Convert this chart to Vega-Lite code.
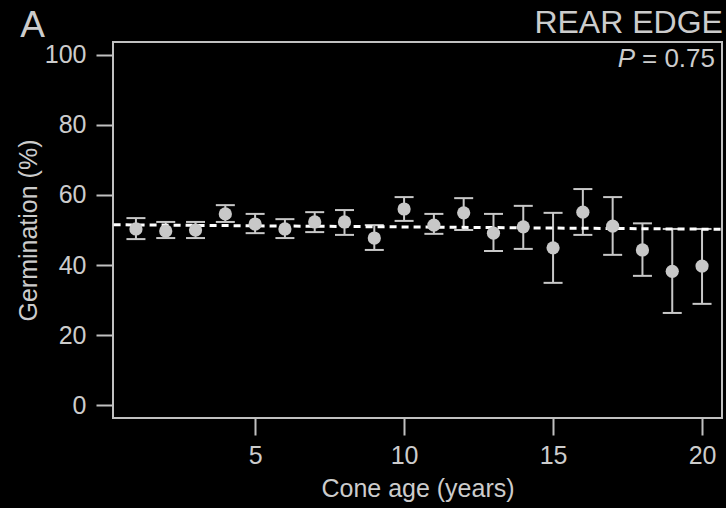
{
  "$schema": "https://vega.github.io/schema/vega-lite/v6.json",
  "width": 609,
  "height": 376,
  "autosize": {"type": "none"},
  "padding": {"left": 113, "top": 42, "right": 4, "bottom": 90},
  "background": "black",
  "view": {"stroke": "#c0c0c0", "strokeWidth": 2, "fill": "black"},
  "config": {
    "font": "Liberation Sans",
    "axis": {
      "labelColor": "#cccccc", "titleColor": "#cccccc", "tickColor": "#c0c0c0",
      "domain": false, "grid": false, "tickSize": 17, "tickWidth": 2,
      "labelFontSize": 25, "titleFontSize": 25, "titleFontWeight": "normal", "labelFont": "Liberation Sans", "titleFont": "Liberation Sans"
    }
  },
  "datasets": {
    "pts": [
      {"age": 1, "g": 50.3, "lo": 47.4, "hi": 53.4},
      {"age": 2, "g": 49.7, "lo": 47.7, "hi": 52.3},
      {"age": 3, "g": 50.0, "lo": 47.7, "hi": 52.3},
      {"age": 4, "g": 54.6, "lo": 52.3, "hi": 57.1},
      {"age": 5, "g": 51.7, "lo": 49.1, "hi": 54.6},
      {"age": 6, "g": 50.3, "lo": 47.7, "hi": 53.1},
      {"age": 7, "g": 52.3, "lo": 49.4, "hi": 55.1},
      {"age": 8, "g": 52.3, "lo": 48.6, "hi": 55.7},
      {"age": 9, "g": 47.7, "lo": 44.3, "hi": 51.4},
      {"age": 10, "g": 56.0, "lo": 52.6, "hi": 59.4},
      {"age": 11, "g": 51.4, "lo": 48.9, "hi": 54.6},
      {"age": 12, "g": 54.9, "lo": 50.0, "hi": 59.1},
      {"age": 13, "g": 49.1, "lo": 44.0, "hi": 54.6},
      {"age": 14, "g": 50.9, "lo": 44.6, "hi": 56.9},
      {"age": 15, "g": 44.9, "lo": 34.9, "hi": 54.9},
      {"age": 16, "g": 55.1, "lo": 48.6, "hi": 61.7},
      {"age": 17, "g": 51.1, "lo": 42.9, "hi": 59.4},
      {"age": 18, "g": 44.3, "lo": 36.9, "hi": 51.9},
      {"age": 19, "g": 38.2, "lo": 26.3, "hi": 50.3},
      {"age": 20, "g": 39.7, "lo": 28.9, "hi": 50.3}
    ],
    "fit": [
      {"age": 0.25, "g": 51.5},
      {"age": 20.65, "g": 50.2}
    ]
  },
  "layer": [
    {
      "data": {"name": "pts"},
      "mark": {"type": "rule", "color": "#c8c8c8", "strokeWidth": 2},
      "encoding": {
        "x": {"field": "age", "type": "quantitative", "scale": {"domain": [0.23, 20.67], "nice": false, "zero": false},
              "axis": {"values": [5, 10, 15, 20], "title": "Cone age (years)", "labelPadding": 8, "titlePadding": 8}},
        "y": {"field": "lo", "type": "quantitative", "scale": {"domain": [-3.71, 103.71], "nice": false},
              "axis": {"values": [0, 20, 40, 60, 80, 100], "title": "Germination (%)", "labelPadding": 10, "titlePadding": 3}},
        "y2": {"field": "hi"}
      }
    },
    {
      "data": {"name": "pts"},
      "mark": {"type": "tick", "orient": "horizontal", "color": "#c8c8c8", "size": 19, "thickness": 2, "opacity": 1},
      "encoding": {
        "x": {"field": "age", "type": "quantitative"},
        "y": {"field": "lo", "type": "quantitative"}
      }
    },
    {
      "data": {"name": "pts"},
      "mark": {"type": "tick", "orient": "horizontal", "color": "#c8c8c8", "size": 19, "thickness": 2, "opacity": 1},
      "encoding": {
        "x": {"field": "age", "type": "quantitative"},
        "y": {"field": "hi", "type": "quantitative"}
      }
    },
    {
      "data": {"name": "fit"},
      "mark": {"type": "line", "color": "white", "strokeWidth": 3, "strokeDash": [7, 5]},
      "encoding": {
        "x": {"field": "age", "type": "quantitative"},
        "y": {"field": "g", "type": "quantitative"}
      }
    },
    {
      "data": {"name": "pts"},
      "mark": {"type": "circle", "color": "#c8c8c8", "size": 175, "opacity": 1},
      "encoding": {
        "x": {"field": "age", "type": "quantitative"},
        "y": {"field": "g", "type": "quantitative"}
      }
    },
    {
      "data": {"values": [{"t": "= 0.75"}]},
      "mark": {"type": "text", "align": "right", "baseline": "alphabetic", "color": "#cccccc", "fontSize": 26, "dx": -7},
      "encoding": {
        "x": {"datum": 20.67, "type": "quantitative"},
        "y": {"datum": 96.57, "type": "quantitative"},
        "text": {"field": "t"}
      }
    },
    {
      "data": {"values": [{"t": "P"}]},
      "mark": {"type": "text", "align": "right", "baseline": "alphabetic", "color": "#cccccc", "fontSize": 26, "fontStyle": "italic", "dx": -87},
      "encoding": {
        "x": {"datum": 20.67, "type": "quantitative"},
        "y": {"datum": 96.57, "type": "quantitative"},
        "text": {"field": "t"}
      }
    },
    {
      "data": {"values": [{"t": "A", "x": -2.886, "y": 105.1}]},
      "mark": {"type": "text", "align": "left", "baseline": "alphabetic", "color": "#cccccc", "fontSize": 37},
      "encoding": {
        "x": {"field": "x", "type": "quantitative"},
        "y": {"field": "y", "type": "quantitative"},
        "text": {"field": "t"}
      }
    },
    {
      "data": {"values": [{"t": "REAR EDGE", "x": 20.7, "y": 106.3}]},
      "mark": {"type": "text", "align": "right", "baseline": "alphabetic", "color": "#cccccc", "fontSize": 32},
      "encoding": {
        "x": {"field": "x", "type": "quantitative"},
        "y": {"field": "y", "type": "quantitative"},
        "text": {"field": "t"}
      }
    }
  ]
}
